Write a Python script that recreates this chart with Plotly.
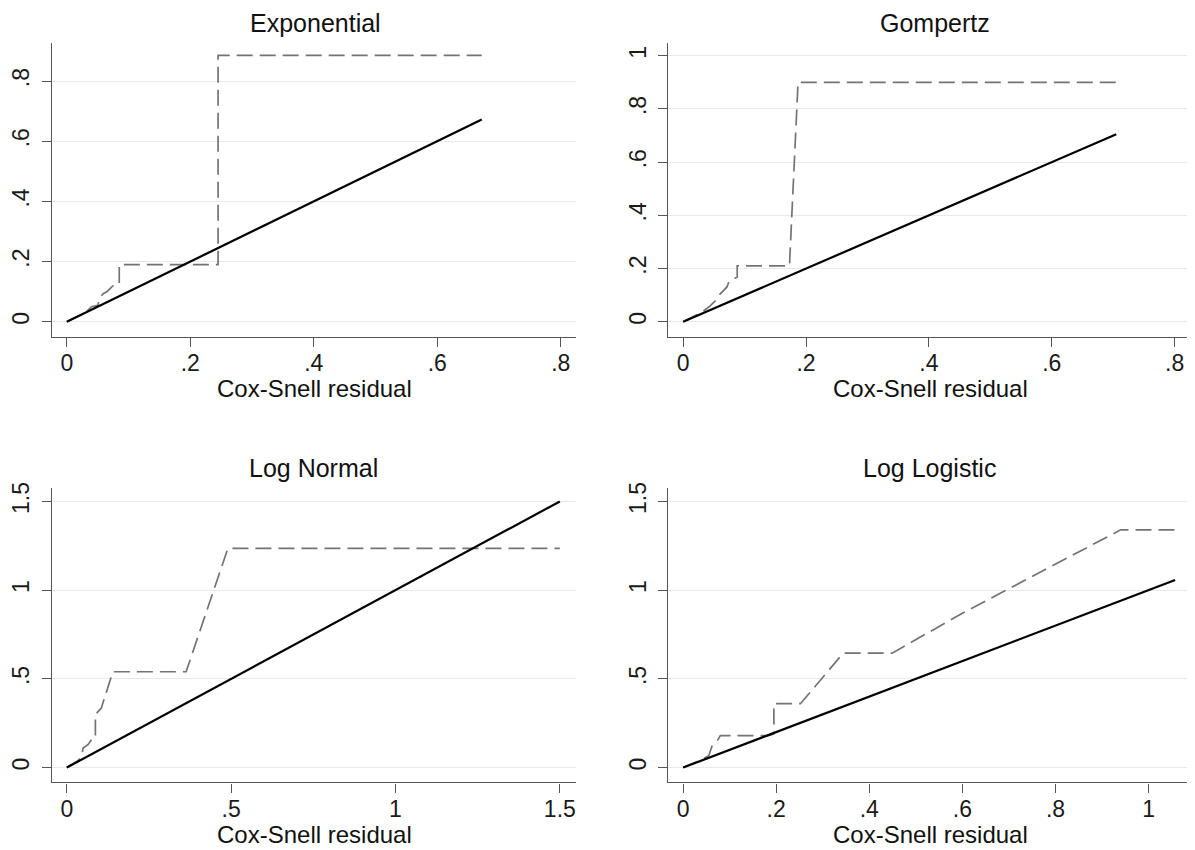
import plotly.graph_objects as go

# The page body has an 8px margin, so the figure is drawn 8px in from the top-left.
OFF = 8
W, H = 1195 - OFF, 850 - OFF

# ---------------- data ----------------
titles = ["Exponential", "Gompertz", "Log Normal", "Log Logistic"]
xlabel = "Cox-Snell residual"

# Exponential
exp_km_x = [0, 0.03, 0.04, 0.05, 0.055, 0.06, 0.065, 0.075, 0.085, 0.085, 0.245, 0.245, 0.672]
exp_km_y = [0, 0.03, 0.05, 0.055, 0.085, 0.095, 0.10, 0.12, 0.125, 0.19, 0.19, 0.885, 0.885]
exp_ref_x = [0, 0.672]
exp_ref_y = [0, 0.672]

# Gompertz
gom_km_x = [0, 0.031, 0.044, 0.052, 0.06, 0.071, 0.075, 0.088, 0.088, 0.173, 0.187, 0.705]
gom_km_y = [0, 0.037, 0.06, 0.078, 0.104, 0.13, 0.153, 0.168, 0.21, 0.21, 0.90, 0.90]
gom_ref_x = [0, 0.705]
gom_ref_y = [0, 0.705]

# Log Normal
ln_km_x = [0, 0.035, 0.045, 0.05, 0.065, 0.08, 0.087, 0.087, 0.105, 0.14, 0.363, 0.49, 1.50]
ln_km_y = [0, 0.04, 0.067, 0.11, 0.13, 0.17, 0.17, 0.30, 0.335, 0.54, 0.54, 1.235, 1.235]
ln_ref_x = [0, 1.50]
ln_ref_y = [0, 1.50]

# Log Logistic
ll_km_x = [0, 0.04, 0.055, 0.062, 0.073, 0.08, 0.183, 0.195, 0.195, 0.252, 0.344, 0.449, 0.60, 0.94, 1.063]
ll_km_y = [0, 0.045, 0.067, 0.12, 0.15, 0.18, 0.18, 0.19, 0.36, 0.36, 0.645, 0.645, 0.87, 1.34, 1.34]
ll_ref_x = [0, 1.057]
ll_ref_y = [0, 1.057]

# ticks
x_ticks_02 = [0, 0.2, 0.4, 0.6, 0.8]
x_ticklabels_02 = ["0", ".2", ".4", ".6", ".8"]
y_ticks_exp = [0, 0.2, 0.4, 0.6, 0.8]
y_ticklabels_exp = ["0", ".2", ".4", ".6", ".8"]
y_ticks_gom = [0, 0.2, 0.4, 0.6, 0.8, 1.0]
y_ticklabels_gom = ["0", ".2", ".4", ".6", ".8", "1"]
x_ticks_ln = [0, 0.5, 1.0, 1.5]
x_ticklabels_ln = ["0", ".5", "1", "1.5"]
y_ticks_15 = [0, 0.5, 1.0, 1.5]
y_ticklabels_15 = ["0", ".5", "1", "1.5"]
x_ticks_ll = [0, 0.2, 0.4, 0.6, 0.8, 1.0]
x_ticklabels_ll = ["0", ".2", ".4", ".6", ".8", "1"]

# ---------------- layout helpers ----------------
FONT = "Liberation Sans, Arial, sans-serif"
TICK_SIZE = 23
TITLE_SIZE = 25
AXIS_TITLE_SIZE = 24
AXIS_COLOR = "#555555"
GRID_COLOR = "#e9e9e9"
KM_COLOR = "#737373"


def px(X):
    return (X - OFF) / W


def py(Y):
    return 1 - (Y - OFF) / H


panels = [
    dict(kmx=exp_km_x, kmy=exp_km_y, rx=exp_ref_x, ry=exp_ref_y,
         box=(47, 573, 37, 333), xr=[-0.0242, 0.824], yr=[-0.0495, 0.927],
         xt=x_ticks_02, xtl=x_ticklabels_02, yt=y_ticks_exp, ytl=y_ticklabels_exp,
         title_x=312),
    dict(kmx=gom_km_x, kmy=gom_km_y, rx=gom_ref_x, ry=gom_ref_y,
         box=(666, 1190, 37, 333), xr=[-0.0243, 0.825], yr=[-0.056, 1.0485],
         xt=x_ticks_02, xtl=x_ticklabels_02, yt=y_ticks_gom, ytl=y_ticklabels_gom,
         title_x=934),
    dict(kmx=ln_km_x, kmy=ln_km_y, rx=ln_ref_x, ry=ln_ref_y,
         box=(47, 573, 485, 782), xr=[-0.0455, 1.548], yr=[-0.084, 1.578],
         xt=x_ticks_ln, xtl=x_ticklabels_ln, yt=y_ticks_15, ytl=y_ticklabels_15,
         title_x=310),
    dict(kmx=ll_km_x, kmy=ll_km_y, rx=ll_ref_x, ry=ll_ref_y,
         box=(666, 1190, 485, 782), xr=[-0.032, 1.089], yr=[-0.084, 1.578],
         xt=x_ticks_ll, xtl=x_ticklabels_ll, yt=y_ticks_15, ytl=y_ticklabels_15,
         title_x=928),
]

fig = go.Figure()
annotations = []
layout_axes = {}

for i, p in enumerate(panels):
    n = "" if i == 0 else str(i + 1)
    xa, ya = "x" + n, "y" + n
    fig.add_trace(go.Scatter(x=p["kmx"], y=p["kmy"], xaxis=xa, yaxis=ya, mode="lines",
                             line=dict(color=KM_COLOR, width=1.7, dash="16px,7px"),
                             showlegend=False, hoverinfo="skip"))
    fig.add_trace(go.Scatter(x=p["rx"], y=p["ry"], xaxis=xa, yaxis=ya, mode="lines",
                             line=dict(color="black", width=2.2),
                             showlegend=False, hoverinfo="skip"))
    l, r, t, b = p["box"]
    layout_axes["xaxis" + n] = dict(
        domain=[px(l), px(r)], range=p["xr"], anchor=ya,
        tickmode="array", tickvals=p["xt"], ticktext=p["xtl"],
        showgrid=False, zeroline=False, showline=True, linecolor=AXIS_COLOR, linewidth=1.3,
        ticks="outside", ticklen=9, tickcolor=AXIS_COLOR, tickwidth=1.2,
        tickfont=dict(family=FONT, size=TICK_SIZE, color="#1a1a1a"),
        ticklabelstandoff=-3, fixedrange=True,
    )
    layout_axes["yaxis" + n] = dict(
        domain=[py(b), py(t)], range=p["yr"], anchor=xa,
        tickmode="array", tickvals=p["yt"], ticktext=p["ytl"],
        showgrid=True, gridcolor=GRID_COLOR, gridwidth=1.3,
        zeroline=False, showline=True, linecolor=AXIS_COLOR, linewidth=1.3,
        ticks="outside", ticklen=9, tickcolor=AXIS_COLOR, tickwidth=1.2,
        tickangle=-90,
        tickfont=dict(family=FONT, size=TICK_SIZE, color="#1a1a1a"),
        ticklabelstandoff=3, fixedrange=True,
    )
    # panel title
    annotations.append(dict(text=titles[i], x=px(p["title_x"]), y=py(t - 20),
                            xref="paper", yref="paper", xanchor="center", yanchor="middle",
                            showarrow=False,
                            font=dict(family=FONT, size=TITLE_SIZE, color="#111111")))
    # x axis title
    annotations.append(dict(text=xlabel, x=px((l + r) / 2 + 1), y=py(b + 52),
                            xref="paper", yref="paper", xanchor="center", yanchor="middle",
                            showarrow=False,
                            font=dict(family=FONT, size=AXIS_TITLE_SIZE, color="#111111")))

fig.update_layout(
    width=W, height=H,
    margin=dict(l=0, r=0, t=0, b=0),
    paper_bgcolor="white", plot_bgcolor="white",
    annotations=annotations,
    **layout_axes,
)

fig.write_html("out.html")
